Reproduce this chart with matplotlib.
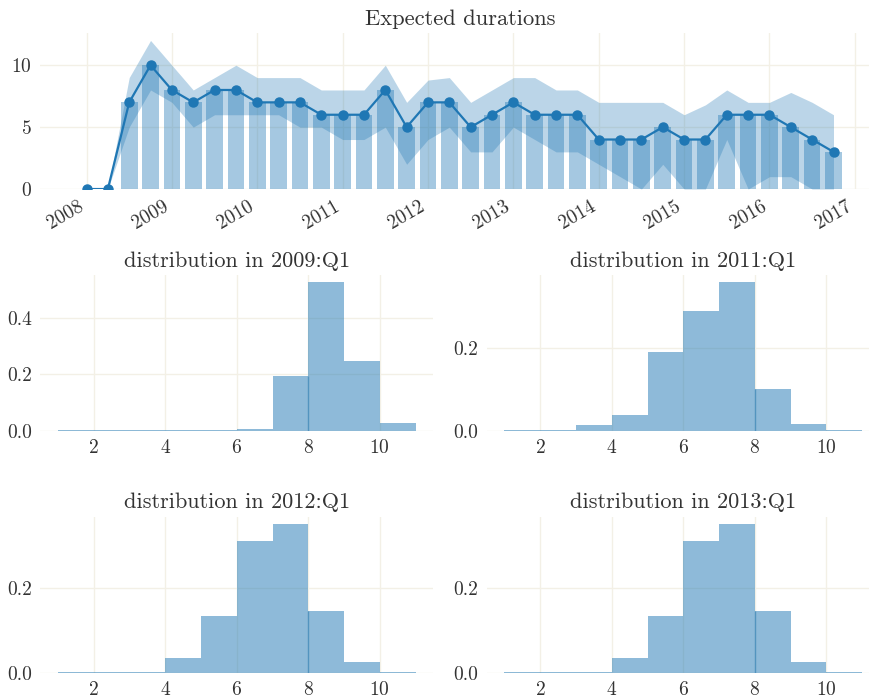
import matplotlib
matplotlib.use("Agg")
import matplotlib.pyplot as plt
import numpy as np

plt.rcParams['font.family'] = 'serif'
plt.rcParams['font.serif'] = ['cmr10']
plt.rcParams['mathtext.fontset'] = 'cm'
plt.rcParams['axes.formatter.use_mathtext'] = True

# quarterly expected durations, 2008:Q1 .. 2016:Q4
years = np.repeat(np.arange(2008, 2017), 4)
quarters = np.tile(np.arange(4), 9)
expected = [0, 0, 7, 10, 8, 7, 8, 8, 7, 7, 7, 6, 6, 6, 8, 5, 7, 7,
            5, 6, 7, 6, 6, 6, 4, 4, 4, 5, 4, 4, 6, 6, 6, 5, 4, 3]
upper = [0, 0, 9, 12, 10, 8, 9, 10, 9, 9, 9, 8, 8, 8, 10, 7, 8.8, 9,
         7, 8, 9, 9, 8, 8, 7, 7, 7, 7, 6, 6.8, 8, 7, 7, 7.8, 7, 6]
lower = [0, 0, 5, 8, 7, 5, 6, 6, 6, 6, 5, 5, 4, 4, 5, 2, 4, 5,
         3, 3, 5, 4, 3, 3, 2, 1, 0, 2, 0, 0, 4, 0, 1, 1, 0, 0]
year_ticks = list(range(2008, 2018))

# distributions (probability per duration bin 1..10)
dur_bins = np.arange(1, 12)
dist = {
    "2009:Q1": [0.002, 0.002, 0.002, 0.002, 0.002, 0.006, 0.196, 0.526, 0.249, 0.028],
    "2011:Q1": [0.003, 0.001, 0.0136, 0.0376, 0.189, 0.289, 0.357, 0.100, 0.016, 0.001],
    "2012:Q1": [0.0015, 0.0015, 0.0024, 0.0348, 0.1327, 0.310, 0.350, 0.1445, 0.026, 0.0015],
    "2013:Q1": [0.0015, 0.0015, 0.0024, 0.0355, 0.1327, 0.310, 0.350, 0.1445, 0.026, 0.0015],
}

blue = '#1f77b4'
grid_col = '#f3f0e6'
text_col = '#333333'


def style(ax):
    for s in ax.spines.values():
        s.set_visible(False)
    ax.grid(True, color=grid_col, linewidth=1)
    ax.set_axisbelow(True)
    ax.tick_params(length=0, labelsize=14, colors=text_col, pad=6)


fig = plt.figure(figsize=(8.7, 6.98), dpi=100)
gs = fig.add_gridspec(3, 2, left=0.046, right=1.0115, top=0.9527, bottom=0.0362,
                      hspace=0.55, wspace=0.135)

ax = fig.add_subplot(gs[0, :])
x = years + quarters / 4.0
ax.bar(x, expected, width=0.195, color=blue, alpha=0.4, linewidth=0)
ax.fill_between(x, lower, upper, color=blue, alpha=0.3, linewidth=0)
ax.plot(x, expected, color=blue, marker='o', markersize=6.5, linewidth=1.6)
ax.set_xticks(year_ticks)
ax.set_xticklabels([str(y) for y in year_ticks], rotation=30, ha='right')
ax.set_yticks([0, 5, 10])
style(ax)
ax.set_title("Expected durations", fontsize=16.2, color=text_col)

for i, (label, probs) in enumerate(dist.items()):
    a = fig.add_subplot(gs[1 + i // 2, i % 2])
    a.bar(dur_bins[:-1], probs, width=1.0, align='edge', color=blue, alpha=0.5, linewidth=0)
    k = list(dur_bins).index(8)
    a.vlines(8, 0, min(probs[k - 1], probs[k]), color=blue, alpha=0.5, linewidth=1)
    a.set_xticks([2, 4, 6, 8, 10])
    a.yaxis.set_major_locator(plt.MultipleLocator(0.2))
    a.yaxis.set_major_formatter(plt.FormatStrFormatter('%.1f'))
    style(a)
    a.set_title("distribution in " + label, fontsize=16, color=text_col)

fig.savefig("out.png", dpi=100)
